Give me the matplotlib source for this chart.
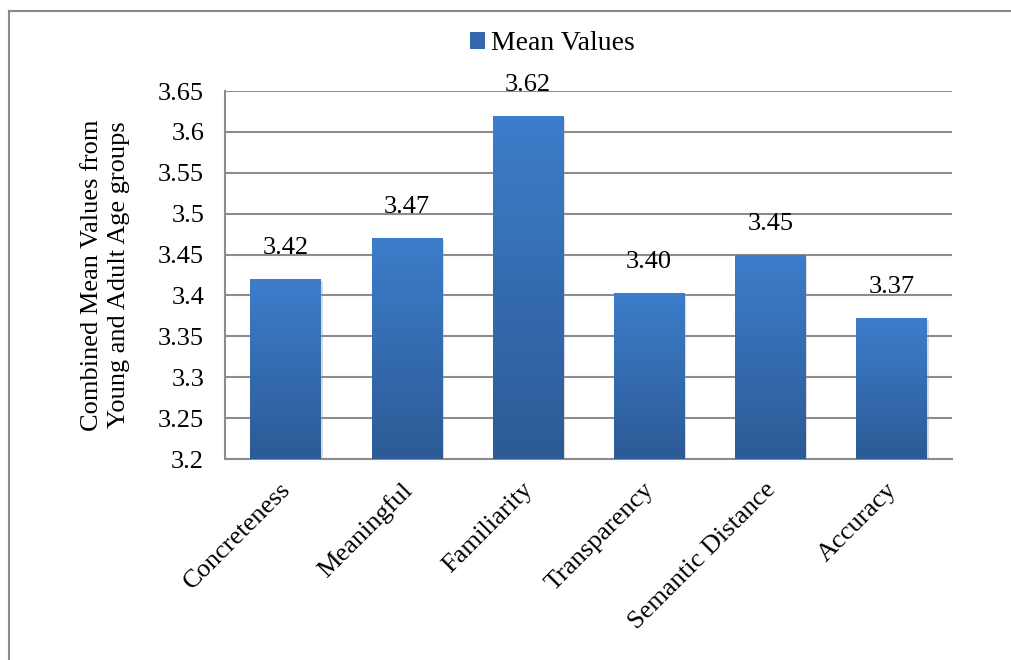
import matplotlib
matplotlib.use("Agg")
import matplotlib.pyplot as plt
import numpy as np
from matplotlib.colors import LinearSegmentedColormap
from matplotlib.lines import Line2D
from matplotlib.patches import Patch
from matplotlib.transforms import ScaledTranslation
import matplotlib.patheffects as pe

plt.rcParams['font.family'] = ['Liberation Serif', 'DejaVu Serif']

categories = ["Concreteness", "Meaningful", "Familiarity", "Transparency",
              "Semantic Distance", "Accuracy"]
mean_values = [3.42, 3.47, 3.62, 3.403, 3.45, 3.372]
value_labels = ["3.42", "3.47", "3.62", "3.40", "3.45", "3.37"]
y_ticks = [3.2, 3.25, 3.3, 3.35, 3.4, 3.45, 3.5, 3.55, 3.6, 3.65]
y_tick_labels = ["3.2", "3.25", "3.3", "3.35", "3.4", "3.45", "3.5", "3.55", "3.6", "3.65"]

FS = 19

W, H = 1012, 660
fig = plt.figure(figsize=(W / 100, H / 100), dpi=100)
ax = fig.add_axes([225 / W, 1 - 459 / H, (952 - 225) / W, (459 - 91) / H])

ymin, ymax = 3.2, 3.65

grid_color = "#8c8c8c"
ax.set_yticks(y_ticks)
ax.set_yticklabels(y_tick_labels, fontsize=FS)
ax.yaxis.grid(True, color=grid_color, linewidth=1.5)
ax.set_axisbelow(True)
ax.tick_params(axis='y', length=0, pad=15)
ax.tick_params(axis='x', length=0, pad=14)

for side in ("top", "right"):
    ax.spines[side].set_visible(False)
for side in ("left", "bottom"):
    ax.spines[side].set_color(grid_color)
    ax.spines[side].set_linewidth(1.5)

# vertical gradient fill for the bars
grad_cmap = LinearSegmentedColormap.from_list("bar_grad", ["#2c5b96", "#3d7dcb"])
gradient = np.linspace(0, 1, 256).reshape(-1, 1)

x = np.arange(len(categories))
bars = ax.bar(x, [v - ymin for v in mean_values], bottom=ymin, width=0.58,
              color="none", edgecolor="none", zorder=3)
for bar in bars:
    bx, by = bar.get_x(), bar.get_y()
    bw, bh = bar.get_width(), bar.get_height()
    shadow = plt.Rectangle((bx, by), bw, bh, facecolor="#000000", alpha=0.0,
                           edgecolor="none", zorder=2.5,
                           path_effects=[pe.SimplePatchShadow(offset=(1.5, -1.5), shadow_rgbFace="#999999", alpha=0.35)])
    ax.add_patch(shadow)
    im = ax.imshow(gradient, cmap=grad_cmap, aspect="auto", origin="lower",
                   extent=(bx, bx + bw, by, by + bh), zorder=3,
                   interpolation="bilinear")
    im.set_clip_path(bar)

ax.set_xlim(-0.5, len(categories) - 0.5)
ax.set_ylim(ymin, ymax)

for xi, v, lab in zip(x, mean_values, value_labels):
    ax.annotate(lab, (xi, v), xytext=(0, 20), textcoords="offset pixels",
                ha="center", va="bottom", fontsize=FS)

ax.set_xticks(x)
ax.set_xticklabels(categories, rotation=45, ha="right", rotation_mode="anchor",
                   fontsize=FS)
shift = ScaledTranslation(-6 / 100, 0, fig.dpi_scale_trans)
for lbl in ax.get_xticklabels():
    lbl.set_transform(lbl.get_transform() + shift)

ax.set_ylabel("Combined Mean Values from\nYoung and Adult Age groups",
              fontsize=FS, labelpad=20, linespacing=1.3)

handle = Patch(facecolor="#3467ad", edgecolor="none")
fig.legend([handle], ["Mean Values"], loc="center",
           bbox_to_anchor=(552 / W, 1 - 44 / H), frameon=False, fontsize=20,
           handlelength=0.55, handleheight=0.55, handletextpad=0.2,
           borderpad=0.2)

# outer chart frame
frame_color = "#8a8a8a"
fig.add_artist(Line2D([9.5 / W, 9.5 / W], [0, 1 - 10.5 / H], transform=fig.transFigure,
                      color=frame_color, linewidth=1.5))
fig.add_artist(Line2D([9.5 / W, 1], [1 - 10.5 / H, 1 - 10.5 / H], transform=fig.transFigure,
                      color=frame_color, linewidth=1.5))

fig.savefig("out.png", dpi=100, facecolor="white")
